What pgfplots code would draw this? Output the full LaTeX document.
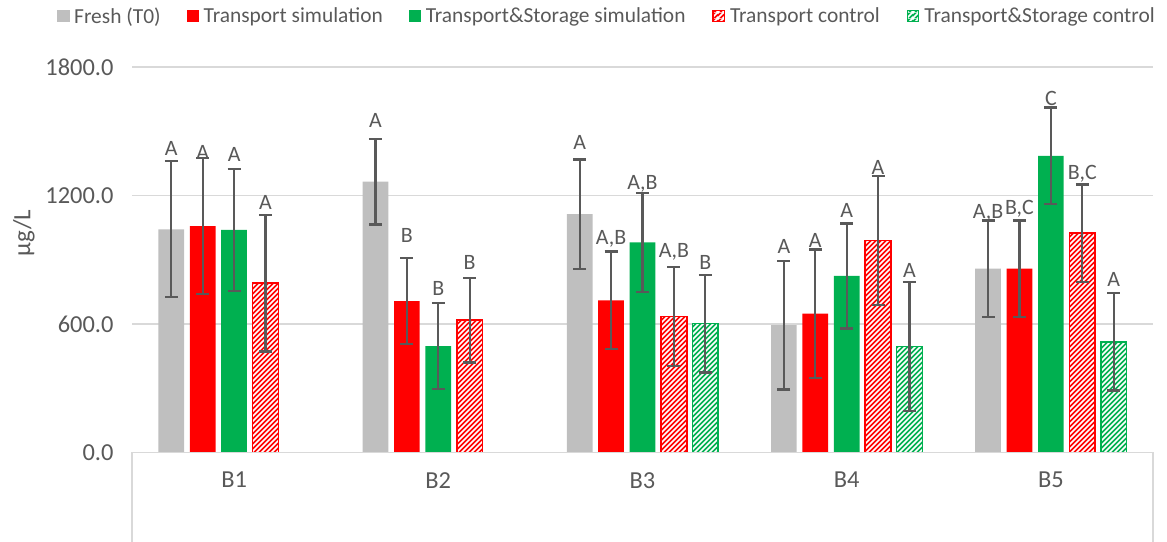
\documentclass[border=0pt]{standalone}
\usepackage{fontspec}
\setmainfont{Carlito}
\usepackage{pgfplots}
\usepackage{pgfplotstable}
\pgfplotsset{compat=1.18}
\usetikzlibrary{patterns}
\definecolor{cgray}{HTML}{BFBFBF}
\definecolor{cred}{HTML}{FF0000}
\definecolor{cgreen}{HTML}{00B050}
\definecolor{gridgray}{HTML}{D9D9D9}
\definecolor{errgray}{HTML}{595959}
\definecolor{txtgray}{HTML}{595959}

\pgfdeclarepatterninherentlycolored{hatchcred}
{\pgfpointorigin}{\pgfqpoint{5.4bp}{5.4bp}}{\pgfqpoint{5.4bp}{5.4bp}}
{\pgfsetfillcolor{cred}
 \pgfpathrectangle{\pgfqpoint{-0.2bp}{-0.2bp}}{\pgfqpoint{5.8bp}{5.8bp}}\pgfusepath{fill}
 \pgfsetlinewidth{1.7bp}\pgfsetstrokecolor{white}
 \pgfpathmoveto{\pgfqpoint{-1bp}{-1bp}}\pgfpathlineto{\pgfqpoint{6.4bp}{6.4bp}}
 \pgfpathmoveto{\pgfqpoint{-1bp}{4.4bp}}\pgfpathlineto{\pgfqpoint{1bp}{6.4bp}}
 \pgfpathmoveto{\pgfqpoint{4.4bp}{-1bp}}\pgfpathlineto{\pgfqpoint{6.4bp}{1bp}}
 \pgfusepath{stroke}}
\pgfdeclarepatterninherentlycolored{hatchcgreen}
{\pgfpointorigin}{\pgfqpoint{5.4bp}{5.4bp}}{\pgfqpoint{5.4bp}{5.4bp}}
{\pgfsetfillcolor{cgreen}
 \pgfpathrectangle{\pgfqpoint{-0.2bp}{-0.2bp}}{\pgfqpoint{5.8bp}{5.8bp}}\pgfusepath{fill}
 \pgfsetlinewidth{1.7bp}\pgfsetstrokecolor{white}
 \pgfpathmoveto{\pgfqpoint{-1bp}{-1bp}}\pgfpathlineto{\pgfqpoint{6.4bp}{6.4bp}}
 \pgfpathmoveto{\pgfqpoint{-1bp}{4.4bp}}\pgfpathlineto{\pgfqpoint{1bp}{6.4bp}}
 \pgfpathmoveto{\pgfqpoint{4.4bp}{-1bp}}\pgfpathlineto{\pgfqpoint{6.4bp}{1bp}}
 \pgfusepath{stroke}}

\pgfplotstableread{
c y e
0 1043 318
1 1265 200
2 1114 255
3 595 300
4 859 225
}\fresh
\pgfplotstableread{
c y e
0 1058 318
1 708 202
2 711 228
3 649 300
4 859 225
}\tsim
\pgfplotstableread{
c y e
0 1040 285
1 498 200
2 982 230
3 825 245
4 1386 225
}\tssim
\pgfplotstableread{
c y e
0 791 319
1 619 198
2 635 230
3 990 300
4 1025 227
}\tcon
\pgfplotstableread{
c y e
2 602 228
3 495 300
4 517 227
}\tscon
\pgfplotstableread{
x y t
-0.3076 1385 A
0.6924 1516 A
1.6924 1416 A
2.6924 931 A
3.6924 1094 A,B
-0.1538 1370 A
0.8462 979 B
1.8462 973 A,B
2.8462 955 A
3.8462 1113 B,C
0 1357 A
1 731 B
2 1229 A,B
3 1099 A
4 1618 C
0.1538 1136 A
1.1538 856 B
2.1538 912 A,B
3.1538 1296 A
4.1538 1273 B,C
2.3076 853 B
3.3076 817 A
4.3076 775 A
}\labs

\pgfplotsset{
  mybar/.style={ybar, bar width=0.126, bar shift=0pt,
    error bars/y dir=both, error bars/y explicit,
    error bars/error bar style={errgray, line width=2.2bp},
    error bars/error mark=|,
    error bars/error mark options={errgray, line width=2.2bp, mark size=6.5bp}},
  solidleg/.style={legend image code/.code={\path (-26bp,0) (17bp,0);
      \fill[##1] (0bp,-6.25bp) rectangle (12.5bp,6.25bp);}},
  hatchleg/.style={legend image code/.code={\path (-26bp,0) (17bp,0);
      \path[pattern=hatch#1, draw=#1, line width=1.2bp] (0.6bp,-5.65bp) rectangle (11.9bp,5.65bp);}},
  plain/.style={fill=#1, draw=none},
  hatch/.style={pattern=hatch#1, draw=#1, line width=1.5bp},
}

\begin{document}
\begin{tikzpicture}
\useasboundingbox (0,0) rectangle (1167bp,542bp);
\begin{axis}[
  at={(132bp,89.3bp)}, anchor=south west,
  width=1021bp, height=385.6bp, scale only axis,
  xmin=-0.5, xmax=4.5, ymin=0, ymax=1800,
  xtick={0,1,2,3,4}, xticklabels={B1,B2,B3,B4,B5},
  ytick={0,600,1200,1800},
  major tick length=0pt,
  axis line style={draw=none},
  ymajorgrids, grid style={color=gridgray, line width=1.5bp},
  /pgf/number format/fixed, /pgf/number format/fixed zerofill,
  /pgf/number format/precision=1, /pgf/number format/1000 sep={},
  /pgf/number format/assume math mode=true,
  yticklabel style={font=\fontsize{24.5}{28}\selectfont, text=txtgray, xshift=-15bp},
  xticklabel style={font=\fontsize{24.5}{28}\selectfont, text=txtgray, yshift=-16bp},
  ylabel={µg/L},
  ylabel style={at={(axis description cs:-0.1058,0.570)}, anchor=center,
    font=\fontsize{25}{30}\selectfont, text=txtgray},
  clip=false,
  legend columns=5,
  legend style={at={(axis description cs:-0.0989,1.132)}, anchor=west,
    draw=none, fill=none, column sep=0pt, inner sep=0pt,
    nodes={inner sep=0pt, font=\fontsize{21.5}{25}\selectfont, text=txtgray}},
]
\addplot[mybar, plain=cgray, solidleg] table[x expr=\thisrow{c}-0.3076, y=y, y error=e] {\fresh};
\addlegendentry{Fresh (T0)}
\addplot[mybar, plain=cred, solidleg] table[x expr=\thisrow{c}-0.1538, y=y, y error=e] {\tsim};
\addlegendentry{Transport simulation}
\addplot[mybar, plain=cgreen, solidleg] table[x expr=\thisrow{c}, y=y, y error=e] {\tssim};
\addlegendentry{Transport\&Storage simulation}
\addplot[mybar, hatch=cred, hatchleg=cred] table[x expr=\thisrow{c}+0.1538, y=y, y error=e] {\tcon};
\addlegendentry{Transport control}
\addplot[mybar, hatch=cgreen, hatchleg=cgreen] table[x expr=\thisrow{c}+0.3076, y=y, y error=e] {\tscon};
\addlegendentry{Transport\&Storage control}
\addplot[draw=none, mark=none, forget plot, nodes near coords, point meta=explicit symbolic,
  every node near coord/.append style={anchor=south, text depth=0pt, inner sep=0pt,
    font=\fontsize{22}{26}\selectfont, text=txtgray}]
  table[x=x, y=y, meta=t] {\labs};
\draw[gridgray, line width=1.5bp] (rel axis cs:0,-0.25) -- (rel axis cs:0,0) -- (rel axis cs:1,0) -- (rel axis cs:1,-0.25);
\end{axis}
\end{tikzpicture}
\end{document}
